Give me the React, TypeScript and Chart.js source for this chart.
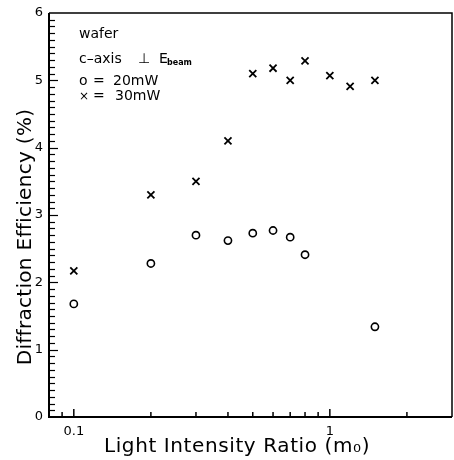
import React, { useEffect, useRef } from "react";
import { Chart, registerables } from "chart.js";

Chart.register(...registerables);

// Data
const ratios20mW = [0.1, 0.2, 0.3, 0.4, 0.5, 0.6, 0.7, 0.8, 1.5];
const efficiency20mW = [1.68, 2.28, 2.7, 2.62, 2.73, 2.77, 2.67, 2.41, 1.34];
const ratios30mW = [0.1, 0.2, 0.3, 0.4, 0.5, 0.6, 0.7, 0.8, 1.0, 1.2, 1.5];
const efficiency30mW = [2.17, 3.3, 3.5, 4.1, 5.1, 5.18, 5.0, 5.29, 5.07, 4.91, 5.0];

// Tick values
const xTickValues = [0.08, 0.09, 0.1, 0.2, 0.3, 0.4, 0.5, 0.6, 0.7, 0.8, 0.9, 1, 2, 3];
const xLabeledTicks = [0.1, 1];
const yMajorTicks = [0, 1, 2, 3, 4, 5, 6];
const yMinorStep = 0.1;

const xTitle = "Light Intensity Ratio (m\u2080)";
const yTitle = "Diffraction Efficiency (%)";
const noteSample = "wafer";
const noteAxis = "c\u2013axis";
const notePerp = "\u22A5";
const noteE = "E";
const noteSub = "beam";
const legendSymbols = ["o", "\u00D7"];
const legendLabels = ["20mW", "30mW"];

const FONT = "'DejaVu Sans', sans-serif";

const framePlugin = {
  id: "framePlugin",
  beforeDatasetsDraw(chart: any) {
    const { ctx, chartArea } = chart;
    const { left, right, top, bottom } = chartArea;
    const xs = chart.scales.x;
    const ys = chart.scales.y;
    ctx.save();
    ctx.strokeStyle = "#000";
    ctx.lineWidth = 1.5;
    ctx.beginPath();
    ctx.moveTo(left, top);
    ctx.lineTo(right, top);
    ctx.lineTo(right, bottom);
    ctx.stroke();
    ctx.lineWidth = 2;
    ctx.beginPath();
    ctx.moveTo(left, top);
    ctx.lineTo(left, bottom);
    ctx.lineTo(right, bottom);
    ctx.stroke();
    ctx.lineWidth = 1.5;
    for (const v of xTickValues) {
      const px = xs.getPixelForValue(v);
      if (px <= left + 1 || px >= right - 1) continue;
      const len = xLabeledTicks.includes(v) ? 8 : 5;
      ctx.beginPath();
      ctx.moveTo(px, bottom);
      ctx.lineTo(px, bottom - len);
      ctx.stroke();
    }
    ctx.lineWidth = 1.2;
    const yMin = yMajorTicks[0];
    const yMax = yMajorTicks[yMajorTicks.length - 1];
    const n = Math.round((yMax - yMin) / yMinorStep);
    for (let i = 1; i < n; i++) {
      const v = yMin + i * yMinorStep;
      const py = Math.round(ys.getPixelForValue(v)) + 0.5;
      const major = i % 10 === 0;
      ctx.beginPath();
      ctx.moveTo(left, py);
      ctx.lineTo(left + (major ? 9 : 6), py);
      ctx.stroke();
    }
    ctx.restore();
  },
  afterDraw(chart: any) {
    const { ctx } = chart;
    ctx.save();
    ctx.fillStyle = "#000";
    ctx.textBaseline = "alphabetic";
    ctx.font = `14px ${FONT}`;
    ctx.fillText(noteSample, 79, 38);
    ctx.fillText(noteAxis, 79, 63);
    ctx.fillText(notePerp, 138, 63);
    ctx.fillText(noteE, 159, 63);
    ctx.font = `bold 8px ${FONT}`;
    ctx.fillText(noteSub, 167, 65);
    ctx.font = `14px ${FONT}`;
    ctx.fillText(legendSymbols[0], 79, 85);
    ctx.fillText("=", 93, 85);
    ctx.fillText(legendLabels[0], 113, 85);
    ctx.font = `12px ${FONT}`;
    ctx.fillText(legendSymbols[1], 79, 100);
    ctx.font = `14px ${FONT}`;
    ctx.fillText("=", 93, 100);
    ctx.fillText(legendLabels[1], 115, 100);

    // axis titles
    ctx.font = `20px ${FONT}`;
    (ctx as any).letterSpacing = "0.6px";
    ctx.textAlign = "center";
    ctx.fillText(xTitle, 237, 452);
    (ctx as any).letterSpacing = "0.3px";
    ctx.translate(31, 237);
    ctx.rotate(-Math.PI / 2);
    ctx.fillText(yTitle, 0, 0);
    (ctx as any).letterSpacing = "0px";
    ctx.restore();
  },
};

export default function App() {
  const canvasRef = useRef<HTMLCanvasElement | null>(null);

  useEffect(() => {
    if (!canvasRef.current) return;
    const chart = new Chart(canvasRef.current, {
      type: "scatter",
      data: {
        datasets: [
          {
            label: "20mW",
            data: ratios20mW.map((x, i) => ({ x, y: efficiency20mW[i] })),
            pointStyle: "circle",
            pointRadius: 3.6,
            borderColor: "#000",
            backgroundColor: "rgba(0,0,0,0)",
            borderWidth: 1.6,
          },
          {
            label: "30mW",
            data: ratios30mW.map((x, i) => ({ x, y: efficiency30mW[i] })),
            pointStyle: "crossRot",
            pointRadius: 5,
            borderColor: "#000",
            backgroundColor: "#000",
            borderWidth: 1.8,
          },
        ],
      },
      options: {
        responsive: false,
        animation: false,
        devicePixelRatio: 1,
        layout: { autoPadding: false, padding: { left: 0, right: 2, top: 13, bottom: 0 } },
        plugins: {
          legend: { display: false },
          tooltip: { enabled: false },
        },
        scales: {
          x: {
            type: "logarithmic",
            min: 0.08,
            max: 3,
            grid: { display: false, drawTicks: true, tickLength: 7 },
            border: { display: false },
            afterBuildTicks: (scale: any) => {
              scale.ticks = xTickValues.map((v) => ({ value: v }));
            },
            afterFit: (scale: any) => {
              scale.height = 43;
              scale.paddingLeft = 0;
              scale.paddingRight = 0;
            },
            ticks: {
              autoSkip: false,
              maxRotation: 0,
              padding: 0,
              color: "#000",
              font: { family: FONT, size: 13 },
              callback: (value: any) =>
                xLabeledTicks.includes(Number(value)) ? String(value) : "",
            },
            title: { display: false },
          },
          y: {
            type: "linear",
            min: yMajorTicks[0],
            max: yMajorTicks[yMajorTicks.length - 1],
            grid: { display: false, drawTicks: true, tickLength: 6 },
            border: { display: false },
            afterBuildTicks: (scale: any) => {
              scale.ticks = yMajorTicks.map((v) => ({ value: v }));
            },
            afterFit: (scale: any) => {
              scale.width = 49;
              scale.paddingTop = 0;
              scale.paddingBottom = 0;
            },
            ticks: {
              padding: 0,
              color: "#000",
              font: { family: FONT, size: 13 },
            },
            title: { display: false },
          },
        },
      },
      plugins: [framePlugin],
    } as any);
    return () => chart.destroy();
  }, []);

  return (
    <div style={{ position: "fixed", left: 0, top: 0, width: 454, height: 460, background: "#fff" }}>
      <canvas ref={canvasRef} width={454} height={460} />
    </div>
  );
}
